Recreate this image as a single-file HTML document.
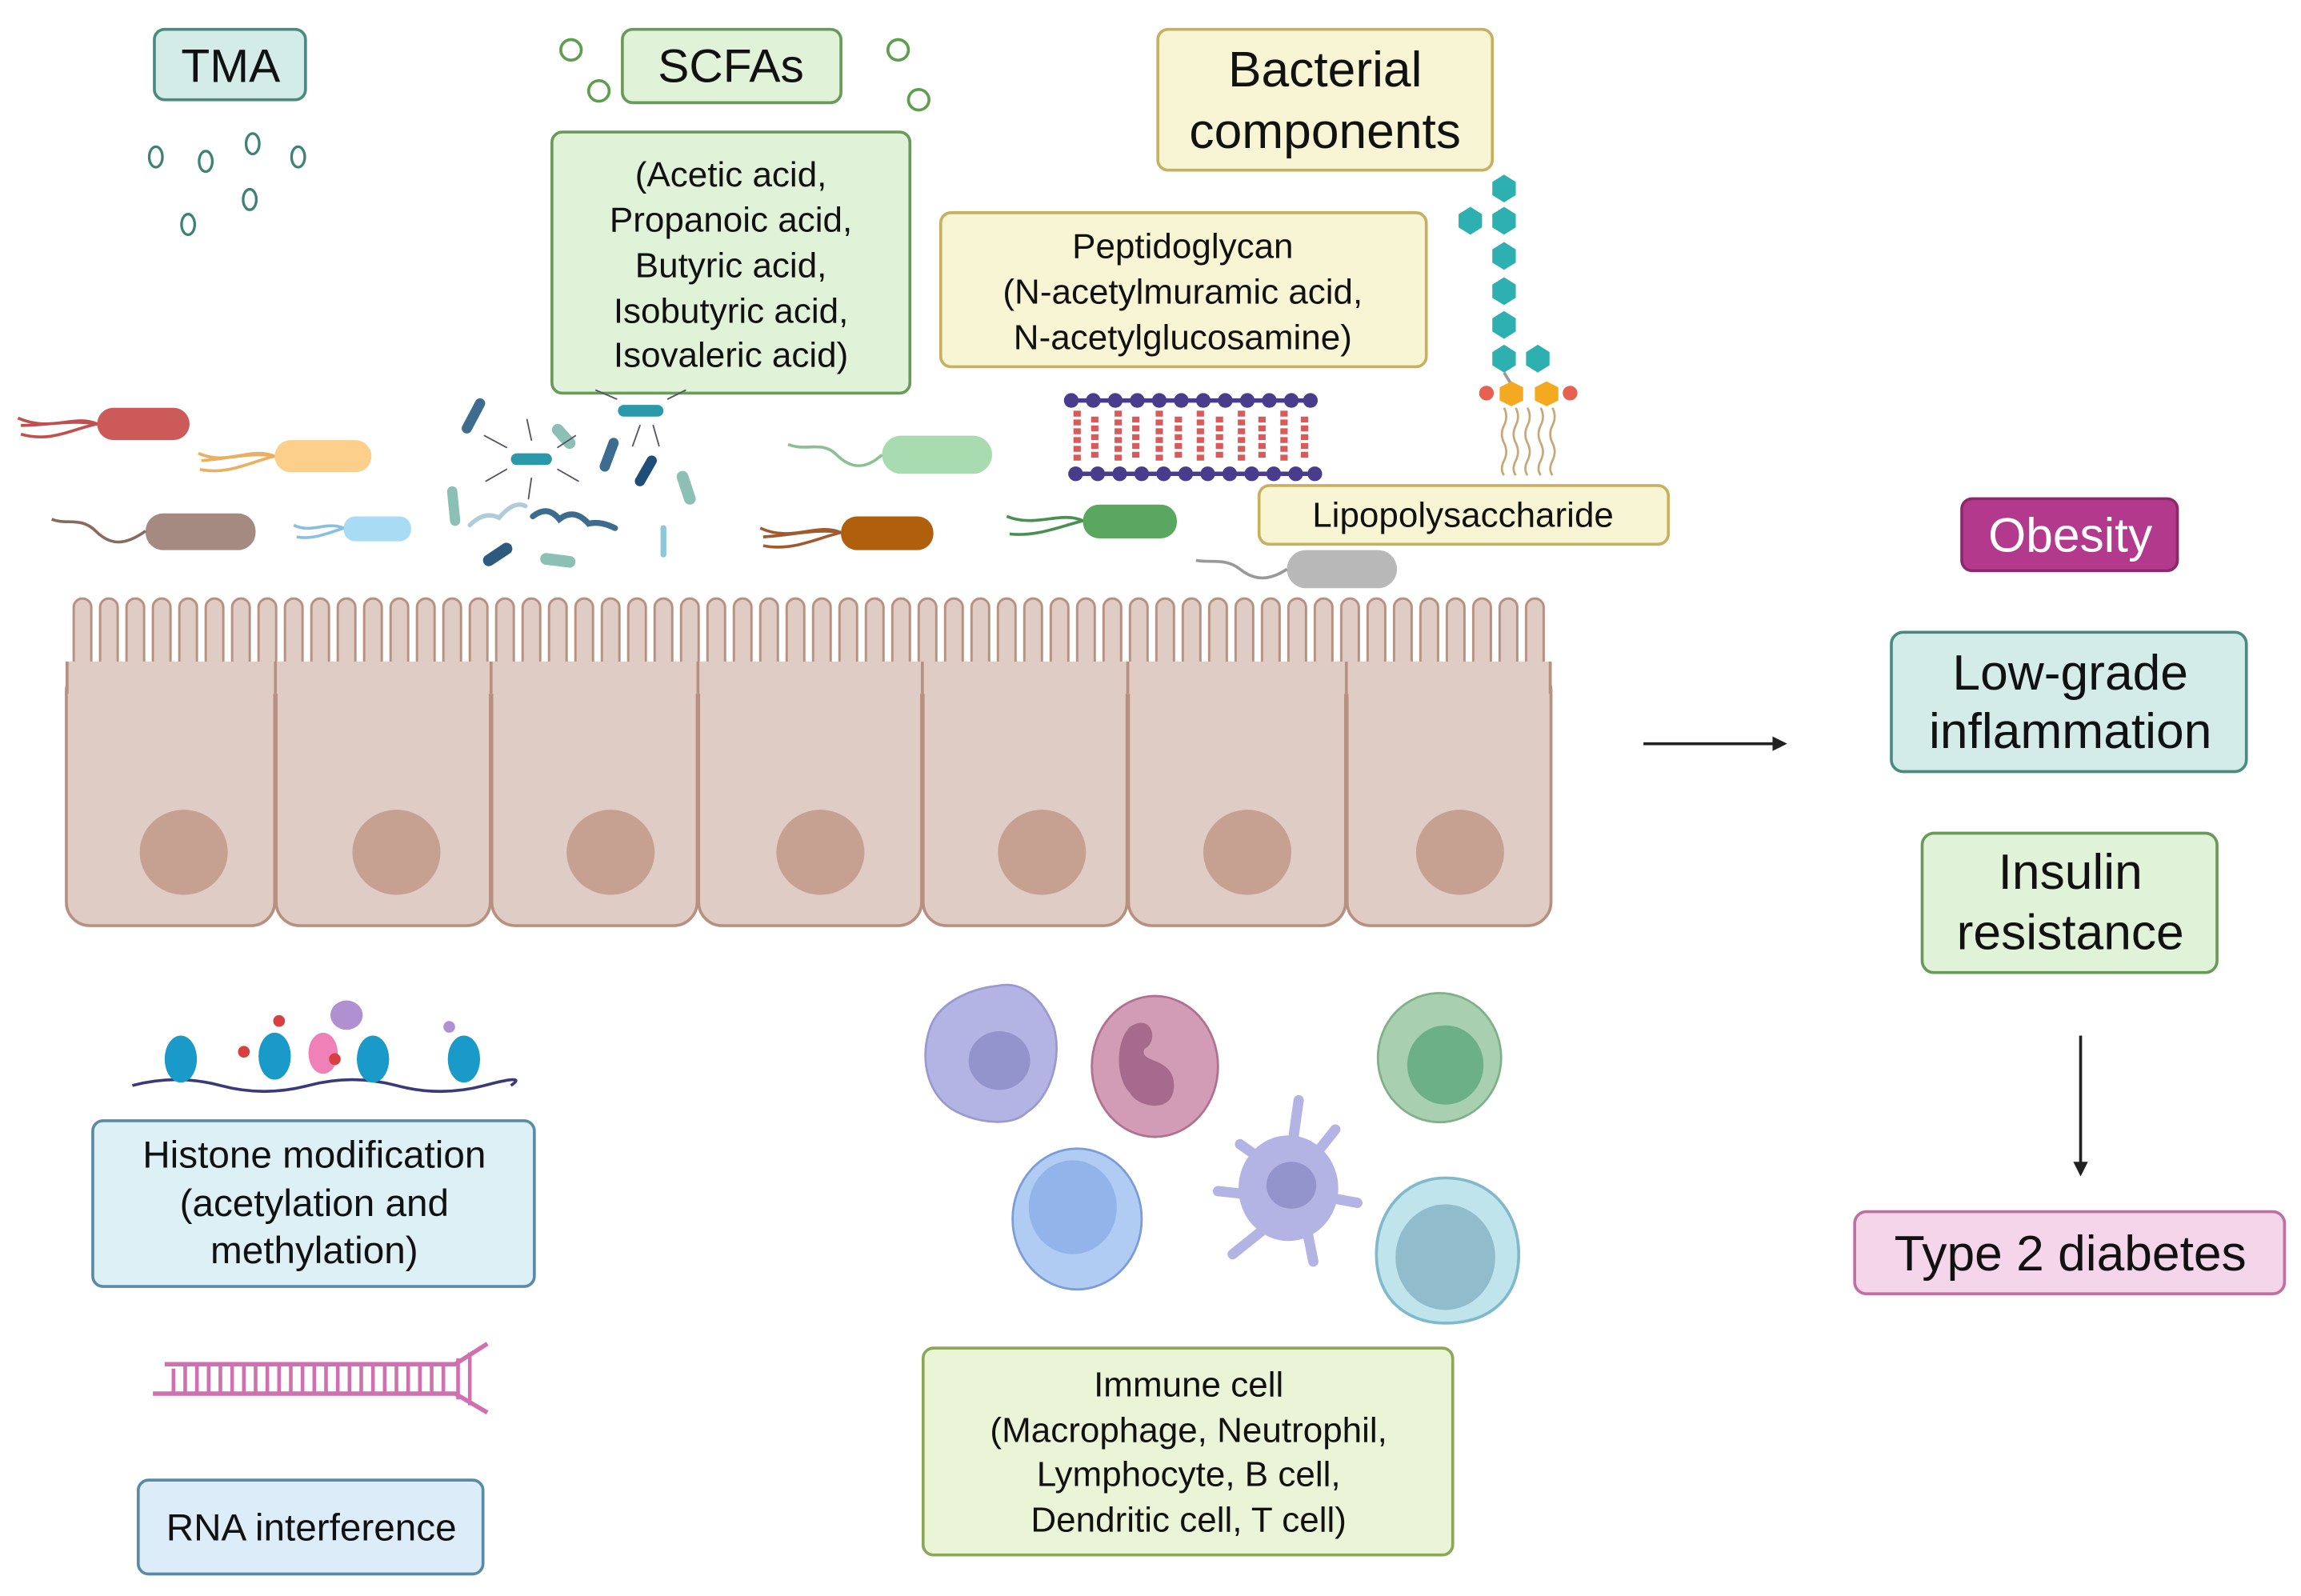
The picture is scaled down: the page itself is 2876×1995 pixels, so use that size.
<!DOCTYPE html>
<html><head><meta charset="utf-8">
<style>
html,body{margin:0;padding:0;background:#fff;}
svg{display:block;}
text{font-family:"Liberation Sans",sans-serif;fill:#111;}
</style></head>
<body>
<svg width="2876" height="1995" viewBox="0 0 1568 1088" xmlns="http://www.w3.org/2000/svg">
<defs>
<pattern id="mv" x="47" y="0" width="18" height="1088" patternUnits="userSpaceOnUse">
<rect x="3" y="408" width="12" height="62" rx="6" fill="#dfccc4" stroke="#b8907f" stroke-width="1.6"/>
</pattern>
<marker id="ah" markerWidth="10" markerHeight="10" refX="8" refY="5" orient="auto" markerUnits="userSpaceOnUse"><path d="M0,0 L10,5 L0,10 z" fill="#222"/></marker>
</defs>

<!-- TMA -->
<rect x="105" y="20" width="103" height="48" rx="7" fill="#d3ece8" stroke="#4a8a7f" stroke-width="2"/>
<text x="157" y="56" font-size="32" text-anchor="middle">TMA</text>
<g fill="none" stroke="#3e8276" stroke-width="1.8">
<ellipse cx="106" cy="107" rx="4.5" ry="7"/><ellipse cx="140" cy="110" rx="4.5" ry="7"/>
<ellipse cx="172" cy="98" rx="4.5" ry="7"/><ellipse cx="203" cy="107" rx="4.5" ry="7"/>
<ellipse cx="170" cy="136" rx="4.5" ry="7"/><ellipse cx="128" cy="153" rx="4.5" ry="7"/>
</g>

<!-- SCFAs -->
<rect x="424" y="20" width="149" height="50" rx="7" fill="#e0f2d8" stroke="#6a9a5a" stroke-width="2"/>
<text x="498" y="56" font-size="32" text-anchor="middle">SCFAs</text>
<g fill="none" stroke="#5e9e4e" stroke-width="2">
<circle cx="389" cy="34" r="7"/><circle cx="408" cy="62" r="7"/><circle cx="612" cy="34" r="7"/><circle cx="626" cy="68" r="7"/>
</g>
<rect x="376" y="90" width="244" height="178" rx="7" fill="#e0f2d8" stroke="#6a9a5a" stroke-width="2"/>
<g font-size="24" text-anchor="middle">
<text x="498" y="127">(Acetic acid,</text>
<text x="498" y="158">Propanoic acid,</text>
<text x="498" y="189">Butyric acid,</text>
<text x="498" y="220">Isobutyric acid,</text>
<text x="498" y="250">Isovaleric acid)</text>
</g>

<!-- Bacterial components -->
<rect x="789" y="20" width="228" height="96" rx="7" fill="#f8f5d5" stroke="#c8b060" stroke-width="2"/>
<text x="903" y="59" font-size="34" text-anchor="middle">Bacterial</text>
<text x="903" y="101" font-size="34" text-anchor="middle">components</text>
<rect x="641" y="145" width="331" height="105" rx="7" fill="#f8f5d5" stroke="#c8b060" stroke-width="2"/>
<g font-size="24" text-anchor="middle">
<text x="806" y="176">Peptidoglycan</text>
<text x="806" y="207">(N-acetylmuramic acid,</text>
<text x="806" y="238">N-acetylglucosamine)</text>
</g>

<!-- peptidoglycan lattice -->
<g>
<line x1="728" y1="273" x2="895" y2="273" stroke="#4a3c8c" stroke-width="3"/>
<line x1="728" y1="323" x2="895" y2="323" stroke="#4a3c8c" stroke-width="3"/>
<g fill="#4a3c8c">
<circle cx="730" cy="273" r="5"/><circle cx="745" cy="273" r="5"/><circle cx="760" cy="273" r="5"/><circle cx="775" cy="273" r="5"/><circle cx="790" cy="273" r="5"/><circle cx="805" cy="273" r="5"/><circle cx="820" cy="273" r="5"/><circle cx="835" cy="273" r="5"/><circle cx="850" cy="273" r="5"/><circle cx="865" cy="273" r="5"/><circle cx="880" cy="273" r="5"/><circle cx="893" cy="273" r="5"/>
<circle cx="733" cy="323" r="5"/><circle cx="748" cy="323" r="5"/><circle cx="763" cy="323" r="5"/><circle cx="778" cy="323" r="5"/><circle cx="793" cy="323" r="5"/><circle cx="808" cy="323" r="5"/><circle cx="823" cy="323" r="5"/><circle cx="838" cy="323" r="5"/><circle cx="853" cy="323" r="5"/><circle cx="868" cy="323" r="5"/><circle cx="883" cy="323" r="5"/><circle cx="896" cy="323" r="5"/>
</g>
<g stroke="#d85a5a" stroke-width="5" stroke-dasharray="4 2">
<line x1="734" y1="280" x2="734" y2="316"/><line x1="746" y1="284" x2="746" y2="312"/><line x1="762" y1="280" x2="762" y2="316"/><line x1="774" y1="284" x2="774" y2="312"/><line x1="790" y1="280" x2="790" y2="316"/><line x1="803" y1="284" x2="803" y2="312"/><line x1="818" y1="280" x2="818" y2="316"/><line x1="831" y1="284" x2="831" y2="312"/><line x1="846" y1="280" x2="846" y2="316"/><line x1="860" y1="284" x2="860" y2="312"/><line x1="875" y1="280" x2="875" y2="316"/><line x1="889" y1="284" x2="889" y2="312"/>
</g>
</g>

<!-- LPS -->
<g fill="#2fb0b0">
<polygon points="1025,119 1033,124 1033,133 1025,138 1017,133 1017,124"/>
<polygon points="1025,141 1033,146 1033,155 1025,160 1017,155 1017,146"/>
<polygon points="1002,141 1010,146 1010,155 1002,160 994,155 994,146"/>
<polygon points="1025,165 1033,170 1033,179 1025,184 1017,179 1017,170"/>
<polygon points="1025,189 1033,194 1033,203 1025,208 1017,203 1017,194"/>
<polygon points="1025,212 1033,217 1033,226 1025,231 1017,226 1017,217"/>
<polygon points="1025,235 1033,240 1033,249 1025,254 1017,249 1017,240"/>
<polygon points="1048,235 1056,240 1056,249 1048,254 1040,249 1040,240"/>
</g>
<line x1="1025" y1="254" x2="1030" y2="262" stroke="#999" stroke-width="2"/>
<g fill="#f4aa20"><polygon points="1030,260 1038,264 1038,273 1030,277 1022,273 1022,264"/><polygon points="1054,260 1062,264 1062,273 1054,277 1046,273 1046,264"/></g>
<circle cx="1013" cy="268" r="5" fill="#e76050"/><circle cx="1070" cy="268" r="5" fill="#e76050"/>
<g fill="none" stroke="#c8a878" stroke-width="1.5">
<path d="M1025,278 q3,6 0,12 q-3,6 0,12 q3,6 0,12 q-3,6 0,10"/><path d="M1033,278 q3,6 0,12 q-3,6 0,12 q3,6 0,12 q-3,6 0,10"/><path d="M1041,278 q3,6 0,12 q-3,6 0,12 q3,6 0,12 q-3,6 0,10"/><path d="M1050,278 q3,6 0,12 q-3,6 0,12 q3,6 0,12 q-3,6 0,10"/><path d="M1058,278 q3,6 0,12 q-3,6 0,12 q3,6 0,12 q-3,6 0,10"/>
</g>
<rect x="858" y="331" width="279" height="40" rx="7" fill="#f8f5d5" stroke="#c8b060" stroke-width="2"/>
<text x="997" y="359" font-size="24" text-anchor="middle">Lipopolysaccharide</text>

<!-- bacteria -->
<g>
<rect x="66" y="278" width="63" height="22" rx="11" fill="#cc5a58"/>
<path d="M66,289 C50,282 35,295 12,285 M66,289 C50,292 35,302 14,296 M66,289 C48,286 32,290 14,290" stroke="#c05050" stroke-width="2" fill="none"/>
<rect x="187" y="300" width="66" height="22" rx="11" fill="#fcd08a"/>
<path d="M187,311 C170,304 155,318 135,309 M187,311 C170,315 155,324 136,320 M187,311 C170,308 155,313 137,314" stroke="#e8b060" stroke-width="2" fill="none"/>
<rect x="99" y="350" width="75" height="25" rx="12" fill="#a48a80"/>
<path d="M99,362 C85,372 75,372 65,362 C55,352 45,358 35,354" stroke="#8a6a60" stroke-width="2" fill="none"/>
<rect x="234" y="352" width="46" height="17" rx="8" fill="#a8dcf5"/>
<path d="M234,360 C222,355 212,364 200,358 M234,360 C222,364 212,368 202,366" stroke="#8ac0dc" stroke-width="2" fill="none"/>
<rect x="601" y="297" width="75" height="26" rx="13" fill="#a8dcb0"/>
<path d="M601,310 C590,320 580,320 570,310 C560,300 550,308 537,303" stroke="#8ac094" stroke-width="2" fill="none"/>
<rect x="573" y="352" width="63" height="23" rx="11" fill="#b0600c"/>
<path d="M573,363 C556,356 540,370 518,360 M573,363 C556,367 540,376 520,372 M573,363 C556,360 540,365 520,366" stroke="#a05a30" stroke-width="2" fill="none"/>
<rect x="738" y="344" width="64" height="23" rx="11" fill="#5aa860"/>
<path d="M738,355 C722,348 706,360 686,352 M738,355 C722,359 706,366 688,364" stroke="#4a9050" stroke-width="2" fill="none"/>
<rect x="877" y="375" width="75" height="26" rx="13" fill="#b8b8b8"/>
<path d="M877,388 C865,396 855,396 845,388 C835,380 825,384 815,382" stroke="#999" stroke-width="2" fill="none"/>
<!-- cluster -->
<g stroke-linecap="round">
<line x1="318" y1="292" x2="327" y2="275" stroke="#3e6c8e" stroke-width="7"/>
<line x1="352" y1="313" x2="372" y2="313" stroke="#2a9aaa" stroke-width="8"/>
<line x1="425" y1="280" x2="448" y2="280" stroke="#2a9aaa" stroke-width="8"/>
<line x1="412" y1="318" x2="418" y2="302" stroke="#3e6c8e" stroke-width="7"/>
<line x1="436" y1="328" x2="444" y2="314" stroke="#1e4e78" stroke-width="7"/>
<line x1="380" y1="293" x2="388" y2="302" stroke="#8cc0b4" stroke-width="8"/>
<line x1="465" y1="325" x2="470" y2="340" stroke="#8cc0b4" stroke-width="8"/>
<line x1="308" y1="335" x2="310" y2="355" stroke="#8cc0b4" stroke-width="7"/>
<line x1="333" y1="382" x2="345" y2="374" stroke="#2e5a80" stroke-width="8"/>
<line x1="372" y1="381" x2="388" y2="383" stroke="#8cc0b4" stroke-width="8"/>
<line x1="452" y1="360" x2="452" y2="378" stroke="#8cc8d8" stroke-width="4"/>
<path d="M320,358 q10,-10 20,-5 q10,-12 18,-8" stroke="#b0ccd8" stroke-width="3" fill="none"/>
<path d="M363,352 q10,-8 18,2 q10,-8 20,3 q8,-2 18,3" stroke="#3e6c8e" stroke-width="4" fill="none"/>
<path d="M345,305 l-15,-8 M345,320 l-14,8 M380,305 l12,-8 M380,320 l14,8 M362,300 l-3,-14 M362,326 l-2,14" stroke="#556" stroke-width="1" fill="none"/>
<path d="M420,272 l-14,-6 M455,272 l12,-6 M436,290 l-5,14 M445,290 l4,14" stroke="#556" stroke-width="1" fill="none"/>
</g>
</g>

<!-- epithelium -->
<g fill="#dfccc4" stroke="#b8907f" stroke-width="2">
<rect x="45" y="455" width="142" height="176" rx="16"/>
<rect x="188" y="455" width="146" height="176" rx="16"/>
<rect x="335" y="455" width="140" height="176" rx="16"/>
<rect x="476" y="455" width="152" height="176" rx="16"/>
<rect x="629" y="455" width="139" height="176" rx="16"/>
<rect x="769" y="455" width="148" height="176" rx="16"/>
<rect x="918" y="455" width="139" height="176" rx="16"/>
</g>
<rect x="45" y="405" width="1012" height="65" fill="url(#mv)"/>
<rect x="46" y="451" width="1010" height="22" fill="#dfccc4"/>
<line x1="45.5" y1="451" x2="45.5" y2="473" stroke="#b8907f" stroke-width="2"/>
<line x1="1056.5" y1="451" x2="1056.5" y2="473" stroke="#b8907f" stroke-width="2"/>
<g stroke="#b8907f" stroke-width="2">
<line x1="187.5" y1="451" x2="187.5" y2="473"/><line x1="334.5" y1="451" x2="334.5" y2="473"/><line x1="475.5" y1="451" x2="475.5" y2="473"/><line x1="628.5" y1="451" x2="628.5" y2="473"/><line x1="768.5" y1="451" x2="768.5" y2="473"/><line x1="917.5" y1="451" x2="917.5" y2="473"/>
</g>
<g fill="#c6a090">
<ellipse cx="125" cy="581" rx="30" ry="29"/><ellipse cx="270" cy="581" rx="30" ry="29"/><ellipse cx="416" cy="581" rx="30" ry="29"/><ellipse cx="559" cy="581" rx="30" ry="29"/><ellipse cx="710" cy="581" rx="30" ry="29"/><ellipse cx="850" cy="581" rx="30" ry="29"/><ellipse cx="995" cy="581" rx="30" ry="29"/>
</g>

<!-- arrows -->
<line x1="1120" y1="507" x2="1216" y2="507" stroke="#222" stroke-width="2" marker-end="url(#ah)"/>
<line x1="1418" y1="706" x2="1418" y2="800" stroke="#222" stroke-width="2" marker-end="url(#ah)"/>

<!-- right column -->
<rect x="1337" y="340" width="147" height="49" rx="7" fill="#b2398c" stroke="#8a2a6a" stroke-width="2"/>
<text x="1411" y="376" font-size="33" text-anchor="middle" style="fill:#fff">Obesity</text>
<rect x="1289" y="431" width="242" height="95" rx="8" fill="#d3ece8" stroke="#4a8a7f" stroke-width="2"/>
<text x="1411" y="470" font-size="34" text-anchor="middle">Low-grade</text>
<text x="1411" y="510" font-size="34" text-anchor="middle">inflammation</text>
<rect x="1310" y="568" width="201" height="95" rx="8" fill="#e0f2d8" stroke="#6a9a5a" stroke-width="2"/>
<text x="1411" y="606" font-size="34" text-anchor="middle">Insulin</text>
<text x="1411" y="647" font-size="34" text-anchor="middle">resistance</text>
<rect x="1264" y="826" width="293" height="56" rx="8" fill="#f5d5ea" stroke="#c070a0" stroke-width="2"/>
<text x="1411" y="866" font-size="34" text-anchor="middle">Type 2 diabetes</text>

<!-- histone -->
<path d="M90,740 q30,-8 60,0 t60,0 t60,0 t60,0 t18,0" stroke="#3a3a7a" stroke-width="2" fill="none"/>
<g fill="#1a9ac8"><ellipse cx="123" cy="722" rx="11" ry="16"/><ellipse cx="187" cy="720" rx="11" ry="16"/><ellipse cx="254" cy="722" rx="11" ry="16"/><ellipse cx="316" cy="722" rx="11" ry="16"/></g>
<ellipse cx="220" cy="718" rx="10" ry="14" fill="#f080b8"/>
<ellipse cx="236" cy="692" rx="11" ry="10" fill="#b090d0"/>
<g fill="#d84040"><circle cx="166" cy="717" r="4"/><circle cx="190" cy="696" r="4"/><circle cx="228" cy="722" r="4"/></g>
<circle cx="306" cy="700" r="4" fill="#b090d0"/>
<rect x="63" y="764" width="301" height="113" rx="7" fill="#dcf0f5" stroke="#5a8aa8" stroke-width="2"/>
<g font-size="26" text-anchor="middle">
<text x="214" y="796">Histone modification</text>
<text x="214" y="829">(acetylation and</text>
<text x="214" y="861">methylation)</text>
</g>
<!-- RNA -->
<path d="M104,950 H310 L332,963 M112,930 H310 L332,916" stroke="#d070b0" stroke-width="3" fill="none"/>
<g stroke="#d070b0" stroke-width="2.5">
<path d="M118,933 V950 M126,930 V950 M134,930 V950 M142,930 V950 M150,930 V950 M158,930 V950 M166,930 V950 M174,930 V950 M182,930 V950 M190,930 V950 M198,930 V950 M206,930 V950 M214,930 V950 M222,930 V950 M230,930 V950 M238,930 V950 M246,930 V950 M254,930 V950 M262,930 V950 M270,930 V950 M278,930 V950 M286,930 V950 M294,930 V950 M302,930 V950 M312,926 V954 M320,922 V958"/>
</g>
<rect x="94" y="1009" width="235" height="64" rx="7" fill="#dcecf8" stroke="#5a8aa8" stroke-width="2"/>
<text x="212" y="1050" font-size="26" text-anchor="middle">RNA interference</text>

<!-- immune cells -->
<path d="M680,672 C700,668 712,685 718,700 C724,720 716,748 700,758 C690,768 668,766 652,758 C632,748 626,722 634,700 C640,684 660,674 680,672 z" fill="#b4b4e4" stroke="#9a9ad0" stroke-width="1.5"/>
<ellipse cx="681" cy="723" rx="21" ry="20" fill="#9494cc"/>
<ellipse cx="787" cy="727" rx="43" ry="48" fill="#d29bb6" stroke="#b07090" stroke-width="1.5"/>
<path d="M770,700 C785,690 790,710 780,715 C775,725 800,720 800,740 C800,760 775,755 770,745 C760,735 760,710 770,700z" fill="#a66a8c"/>
<ellipse cx="734" cy="831" rx="44" ry="48" fill="#b0ccf2" stroke="#7a9cd8" stroke-width="1.5"/>
<ellipse cx="731" cy="823" rx="30" ry="32" fill="#92b4ea"/>
<ellipse cx="981" cy="721" rx="42" ry="44" fill="#a8d0b0" stroke="#80b088" stroke-width="1.5"/>
<ellipse cx="985" cy="726" rx="26" ry="27" fill="#6cb088"/>
<g stroke="#b4b4e4" stroke-width="7" stroke-linecap="round" fill="none">
<path d="M878,800 L885,750 M890,795 L910,770 M898,815 L925,820 M890,835 L895,860 M865,835 L840,855 M858,815 L830,812 M862,792 L845,780"/>
</g>
<ellipse cx="878" cy="810" rx="34" ry="36" fill="#b4b4e4"/>
<ellipse cx="880" cy="808" rx="17" ry="16" fill="#9494cc"/>
<path d="M985,803 C1015,803 1035,825 1035,855 C1035,885 1015,902 985,902 C958,902 938,885 938,855 C938,825 958,803 985,803 z" fill="#bfe4ec" stroke="#80b8cc" stroke-width="2"/>
<ellipse cx="985" cy="857" rx="34" ry="36" fill="#90bccc"/>

<rect x="629" y="919" width="361" height="141" rx="7" fill="#eaf5d8" stroke="#8aa858" stroke-width="2"/>
<g font-size="24" text-anchor="middle">
<text x="810" y="952">Immune cell</text>
<text x="810" y="983">(Macrophage, Neutrophil,</text>
<text x="810" y="1013">Lymphocyte, B cell,</text>
<text x="810" y="1044">Dendritic cell, T cell)</text>
</g>
</svg>
</body></html>
